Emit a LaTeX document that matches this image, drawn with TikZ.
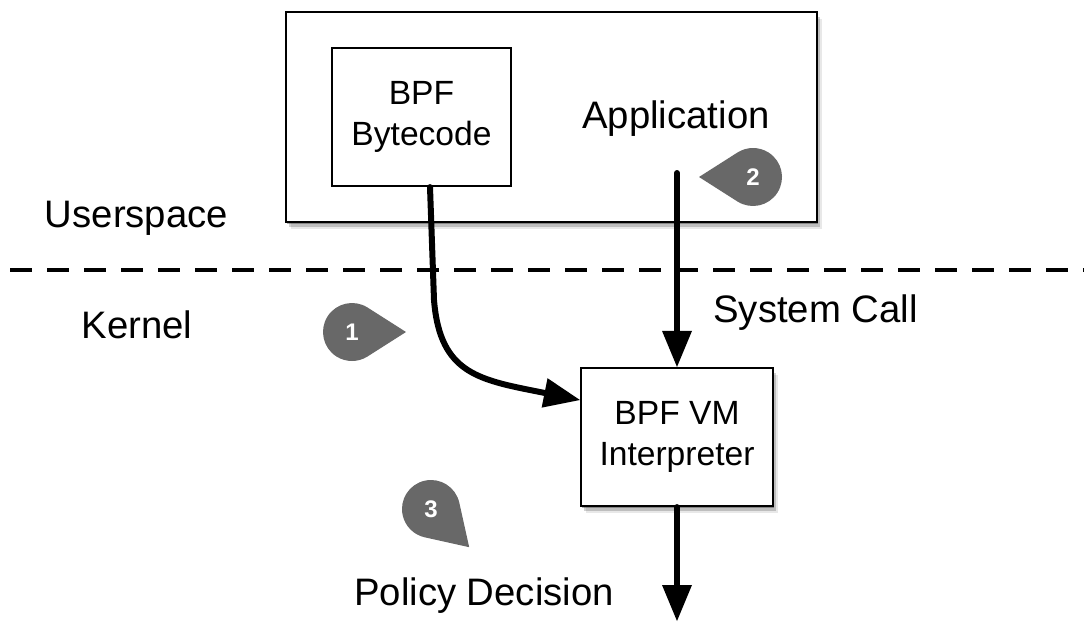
\documentclass[tikz,border=0pt]{standalone}
\usepackage{fontspec}
\setmainfont{Liberation Sans}
\usetikzlibrary{arrows.meta,shadows,calc}
\definecolor{badgegray}{HTML}{686868}
\newcommand\drawbadge[5]{%
  \fill[badgegray] ($(#2,#3)+(#4:54pt)$) -- ($(#2,#3)+(#4+57.5:29pt)$)
     arc[start angle=#4+57.5, end angle=#4+302.5, radius=29pt] -- cycle;
  \node[badgetxt] (#1) at (#2,#3) {#5};
}
\begin{document}
\begin{tikzpicture}[x=1pt,y=1pt,
  shad/.style={
    drop shadow={shadow xshift=1pt,shadow yshift=-2pt,opacity=.3,fill=black},
    drop shadow={shadow xshift=3pt,shadow yshift=-4.5pt,opacity=.18,fill=black},
    drop shadow={shadow xshift=5pt,shadow yshift=-7pt,opacity=.09,fill=black}},
  box/.style={draw=black, line width=2.2pt, fill=white, inner sep=0pt, align=center,
    font=\fontsize{33.6}{41}\selectfont},
  lbl/.style={inner sep=0pt, anchor=base, font=\fontsize{38.3}{46}\selectfont},
  badgetxt/.style={inner sep=0pt, text=white, font=\fontsize{24}{28}\selectfont\bfseries},
  arr/.style={line width=6pt, line cap=round,
    -{Triangle[length=36pt,width=30pt,line width=0pt]}},
  divider/.style={line width=4pt, dash pattern=on 22pt off 15pt}
]
\useasboundingbox (0,0) rectangle (1084,-621);

% boxes
\node[box, shad, minimum width=531pt, minimum height=210pt] (app) at (551.5,-117) {};
\node[box, minimum width=179pt, minimum height=138pt] (bc) at (421.5,-117) {BPF\\Bytecode};
\node[box, shad, minimum width=192pt, minimum height=138pt] (vm) at (677,-437) {BPF VM\\Interpreter};

% labels
\node[lbl] (application) at (676,-128) {Application};
\node[lbl] (userspace) at (136.5,-227) {Userspace};
\node[lbl] (kernel) at (137,-338) {Kernel};
\node[lbl] (syscall) at (815.5,-322) {System Call};
\node[lbl] (policy) at (484,-605) {Policy Decision};

% divider
\coordinate (dl) at (10,-270);
\coordinate (dr) at (1084,-270);
\draw[divider] (dl) -- (dr);

% connectors
\coordinate (appsrc) at (677,-173);
\coordinate (polend) at (677,-621);
\coordinate (bend) at (434,-300);
\draw[arr] (appsrc) -- (vm.north);
\draw[arr] ([xshift=8.5pt]bc.south) -- (bend)
   .. controls (440,-375) and (480,-380) .. ([yshift=37pt]vm.west);
\draw[arr] (vm.south) -- (polend);

% badges
\drawbadge{b1}{352}{-332}{0}{1}
\drawbadge{b2}{753}{-177}{180}{2}
\drawbadge{b3}{431}{-509}{-45}{3}
\end{tikzpicture}
\end{document}
